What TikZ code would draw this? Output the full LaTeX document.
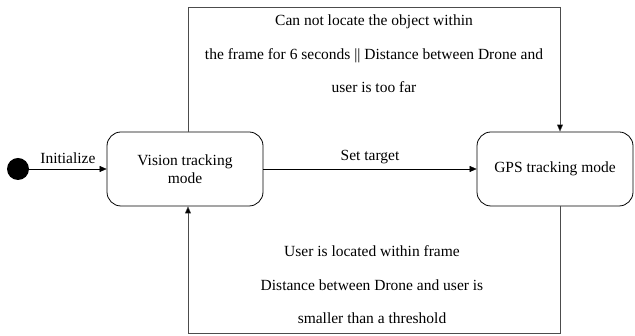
\documentclass[tikz,border=0pt]{standalone}
\usepackage{fontspec}
\setmainfont{Liberation Serif}
\usepackage{tikz}
\usetikzlibrary{
	shapes.geometric,
	arrows.meta,
	positioning,
	calc
}

\begin{document}
\begin{tikzpicture}[
				x=1pt, y=1pt,
				state/.style={
					rectangle, draw, rounded corners=14pt, thick,
					minimum width=156pt, minimum height=74pt,
					align=center, font=\fontsize{15.5}{18.5}\selectfont
				},
				initstate/.style={
					circle, fill=black, inner sep=0pt, minimum size=22pt
				},
				lbl/.style={
					align=center, font=\fontsize{15.5}{18.5}\selectfont
				},
				guard/.style={
					align=center, font=\fontsize{15.5}{33.5}\selectfont
				},
				arrow/.style={-{Triangle[length=7pt,width=6pt,fill=black]}, black},
				loopline/.style={gray!60!black}
				]
				\useasboundingbox (0,0) rectangle (635,336);
				
				% initial state
				\node[initstate] (init) at (18,167) {};
				
				% vision tracking
				\node[state] (vision) at (185,167) {Vision tracking\\mode};
				
				% gps tracking
				\node[state] (gps) at (555,167) {GPS tracking mode};
				
				% corners of the two loops
				\coordinate (topL) at (188,329);
				\coordinate (topR) at (560,329);
				\coordinate (botL) at (188,3);
				\coordinate (botR) at (560,3);
				
				% transitions
				\draw[arrow] (init) -- (vision) node[lbl, midway, above=2pt] {Initialize};
				\draw[arrow] (vision) -- (gps) node[lbl, midway, above=2pt] {Set target};
				\draw[loopline] (vision.north -| topL) -- (topL) -- (topR);
				\draw[arrow, loopline] (topR) -- (gps.north -| topR);
				\draw[loopline] (gps.south -| botR) -- (botR) -- (botL);
				\draw[arrow, loopline] (botL) -- (vision.south -| botL);
				
				% guards
				\node[guard] (lost) at (374,282) {Can not locate the object within\\the frame for 6 seconds || Distance between Drone and\\user is too far};
				\node[guard] (found) at (372,51) {User is located within frame\\Distance between Drone and user is\\smaller than a threshold};
			\end{tikzpicture}
\end{document}
